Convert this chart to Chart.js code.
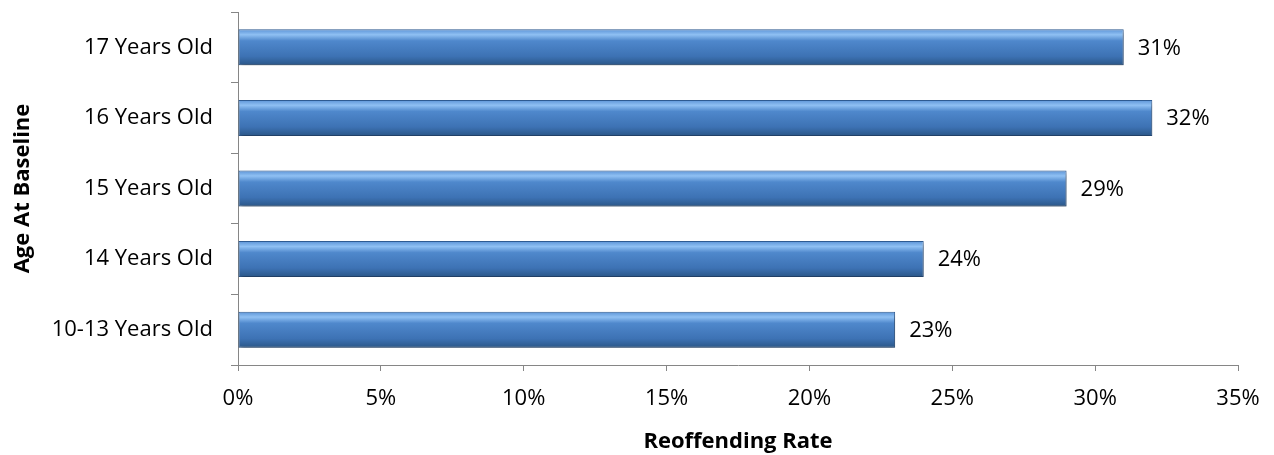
<!DOCTYPE html>
<html>
<head>
<meta charset="utf-8">
<script src="https://cdn.jsdelivr.net/npm/chart.js@4/dist/chart.umd.min.js"></script>
<style>
  html, body { margin: 0; padding: 0; background: #fff; }
  #wrap { width: 1274px; height: 455px; }
</style>
</head>
<body>
<div id="wrap"><canvas id="rateChart" width="1274" height="455"></canvas></div>
<script>
// data
var ageGroups = ["17 Years Old", "16 Years Old", "15 Years Old", "14 Years Old", "10-13 Years Old"];
var reoffendRates = [31, 32, 29, 24, 23];
var xMin = 0, xMax = 35, xStep = 5;

var FONT = "'Open Sans', Lato, sans-serif";
var AXIS_GREY = "#868686";

// bevel-ish fill for each bar, built from the bar's own position
var barShading = {
    id: "barShading",
    beforeDatasetDraw: function(chart, args) {
        var ctx = chart.ctx;
        args.meta.data.forEach(function(el) {
            var top = el.y - el.height / 2, bottom = el.y + el.height / 2;
            var g = ctx.createLinearGradient(0, top, 0, bottom);
            g.addColorStop(0, "#5b93d6");
            g.addColorStop(0.15, "#8fc0f3");
            g.addColorStop(0.32, "#4f88cc");
            g.addColorStop(0.75, "#3d72b4");
            g.addColorStop(1, "#2a5687");
            el.options.backgroundColor = g;
        });
        ctx.save();
        ctx.shadowColor = "rgba(0,0,0,0.35)";
        ctx.shadowBlur = 4;
        ctx.shadowOffsetX = 1;
        ctx.shadowOffsetY = 3;
    },
    afterDatasetDraw: function(chart, args) {
        chart.ctx.restore();
    }
};

var valueLabels = {
    id: "valueLabels",
    afterDatasetsDraw: function(chart) {
        var ctx = chart.ctx;
        var meta = chart.getDatasetMeta(0);
        ctx.save();
        ctx.font = "22px " + FONT;
        ctx.fillStyle = "#000";
        ctx.textAlign = "left";
        ctx.textBaseline = "middle";
        meta.data.forEach(function(el, i) {
            ctx.fillText(reoffendRates[i] + "%", el.x + 14, el.y + 1);
        });
        ctx.restore();
    }
};

new Chart(document.getElementById("rateChart").getContext("2d"), {
    type: "bar",
    data: {
        labels: ageGroups,
        datasets: [{
            label: "Reoffending Rate",
            data: reoffendRates,
            // scriptable so each bar gets its own options object
            backgroundColor: function(c) { return "#4a7ebb"; },
            borderColor: "#2f5c94",
            borderWidth: 1,
            borderSkipped: false,
            barPercentage: 0.51,
            categoryPercentage: 1
        }]
    },
    options: {
        indexAxis: "y",
        responsive: false,
        animation: false,
        layout: { padding: { top: 12, right: 36, left: 10, bottom: 0 } },
        plugins: {
            legend: { display: false },
            tooltip: { enabled: false }
        },
        scales: {
            x: {
                min: xMin,
                max: xMax,
                ticks: {
                    stepSize: xStep,
                    padding: 15,
                    color: "#000",
                    font: { family: FONT, size: 22 },
                    callback: function(v) { return v + "%"; }
                },
                grid: { drawOnChartArea: false, drawTicks: true, tickLength: 6, color: AXIS_GREY },
                border: { color: AXIS_GREY, width: 1 },
                title: {
                    display: true,
                    text: "Reoffending Rate",
                    color: "#000",
                    font: { family: FONT, size: 22, weight: "bold" },
                    padding: { top: 2, bottom: 0 }
                },
                afterFit: function(scale) {
                    scale.height = 455 - 365;
                    scale.paddingLeft = 0;
                    scale.paddingRight = 0;
                }
            },
            y: {
                ticks: {
                    padding: 18,
                    color: "#000",
                    font: { family: FONT, size: 22 }
                },
                grid: { drawOnChartArea: false, drawTicks: true, tickLength: 7, color: AXIS_GREY, offset: true },
                border: { color: AXIS_GREY, width: 1 },
                title: {
                    display: true,
                    text: "Age At Baseline",
                    color: "#000",
                    font: { family: FONT, size: 22, weight: "bold" },
                    padding: { top: 0, bottom: 0 }
                },
                afterFit: function(scale) {
                    scale.width = 228;
                    scale.paddingTop = 0;
                    scale.paddingBottom = 0;
                }
            }
        }
    },
    plugins: [barShading, valueLabels]
});
</script>
</body>
</html>
